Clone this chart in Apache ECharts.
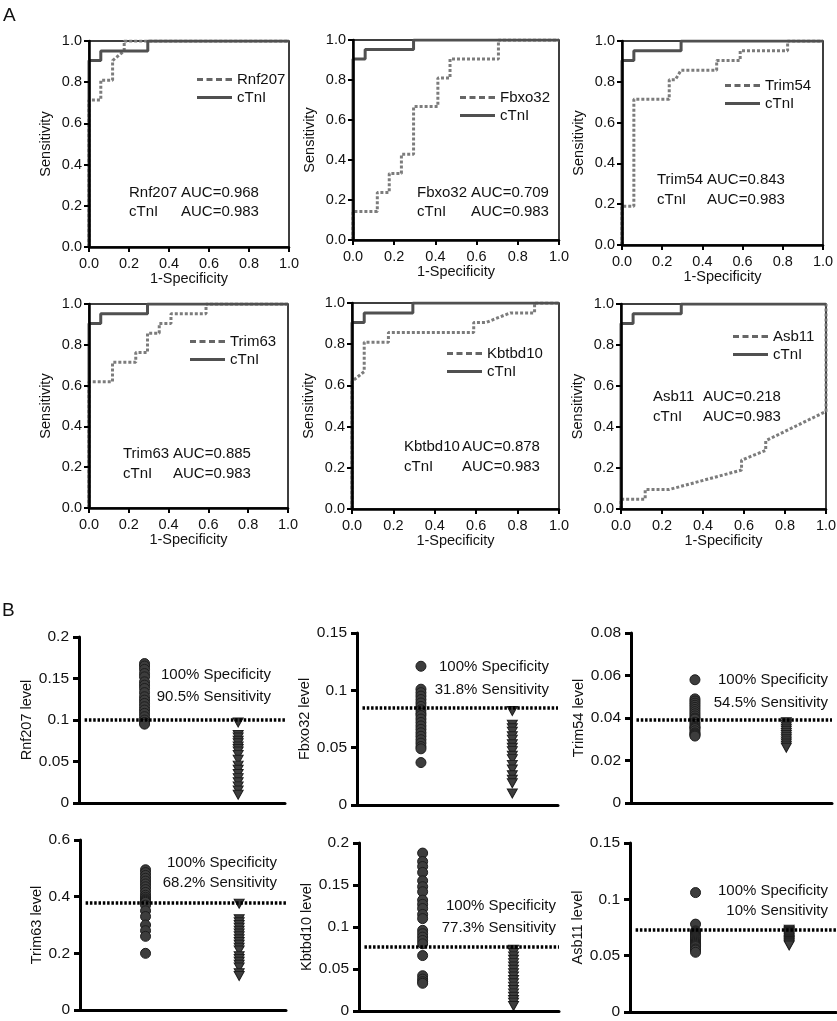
<!DOCTYPE html>
<html><head><meta charset="utf-8">
<script src="https://cdn.jsdelivr.net/npm/echarts@6/dist/echarts.min.js"></script>
<style>html,body{margin:0;padding:0;background:#fff}#c{width:837px;height:1021px}</style>
</head><body><div id="c"></div>
<script>
const FONT = '"Liberation Sans", Arial, sans-serif';

// ---------- DATA ----------
const genes = ['Rnf207', 'Fbxo32', 'Trim54', 'Trim63', 'Kbtbd10', 'Asb11'];
const aucGene = ['AUC=0.968', 'AUC=0.709', 'AUC=0.843', 'AUC=0.885', 'AUC=0.878', 'AUC=0.218'];
const aucCtni = 'AUC=0.983';
const refName = 'cTnI';
const rocTicks = [0, 0.2, 0.4, 0.6, 0.8, 1.0];

// ROC curves: [1-specificity, sensitivity]
const ctniRoc = [[0,0],[0,0.905],[0.059,0.905],[0.059,0.952],[0.294,0.952],[0.294,1],[1,1]];
const rnf207Roc = [[0,0],[0,0.714],[0.059,0.714],[0.059,0.81],[0.118,0.81],[0.118,0.905],[0.176,0.952],[0.176,1],[1,1]];
const fbxo32Roc = [[0,0],[0,0.143],[0.118,0.143],[0.118,0.238],[0.176,0.238],[0.176,0.333],[0.235,0.333],[0.235,0.429],[0.294,0.429],[0.294,0.667],[0.412,0.667],[0.412,0.81],[0.471,0.81],[0.471,0.905],[0.706,0.905],[0.706,1],[1,1]];
const trim54Roc = [[0,0],[0,0.19],[0.059,0.19],[0.059,0.714],[0.235,0.714],[0.235,0.81],[0.265,0.81],[0.294,0.857],[0.471,0.857],[0.471,0.905],[0.588,0.905],[0.588,0.952],[0.824,0.952],[0.824,1],[1,1]];
const trim63Roc = [[0,0],[0,0.619],[0.118,0.619],[0.118,0.714],[0.235,0.714],[0.235,0.762],[0.294,0.762],[0.294,0.857],[0.353,0.857],[0.353,0.905],[0.412,0.905],[0.412,0.952],[0.588,0.952],[0.588,1],[1,1]];
const kbtbd10Roc = [[0,0],[0,0.619],[0.059,0.667],[0.059,0.81],[0.176,0.81],[0.176,0.857],[0.588,0.857],[0.588,0.905],[0.647,0.905],[0.706,0.929],[0.765,0.952],[0.882,0.952],[0.882,1],[1,1]];
const asb11Roc = [[0,0],[0,0.048],[0.118,0.048],[0.118,0.095],[0.235,0.095],[0.588,0.19],[0.588,0.238],[0.706,0.286],[0.706,0.333],[1,0.476],[1,1]];

// Scatter (level) data: circles (group 1) and down-triangles (group 2)
const rnf207High = [0.168,0.165,0.161,0.156,0.152,0.146,0.142,0.138,0.133,0.128,0.124,0.12,0.116,0.112,0.108,0.104,0.1,0.097,0.095];
const rnf207Low  = [0.097,0.082,0.079,0.075,0.072,0.068,0.065,0.062,0.058,0.052,0.045,0.04,0.035,0.03,0.025,0.02,0.015,0.01];
const fbxo32High = [0.121,0.101,0.098,0.095,0.092,0.089,0.086,0.083,0.08,0.078,0.075,0.072,0.069,0.066,0.063,0.06,0.057,0.054,0.051,0.049,0.037];
const fbxo32Low  = [0.082,0.07,0.067,0.064,0.06,0.057,0.053,0.05,0.047,0.043,0.04,0.035,0.031,0.026,0.022,0.019,0.01];
const trim54High = [0.058,0.049,0.048,0.047,0.046,0.045,0.044,0.043,0.042,0.041,0.040,0.0395,0.038,0.037,0.036,0.0355,0.035,0.034,0.033,0.0325,0.032,0.0315];
const trim54Low  = [0.038,0.037,0.036,0.035,0.034,0.033,0.032,0.031,0.030,0.029,0.028,0.027,0.026];
const trim63High = [0.495,0.485,0.475,0.465,0.455,0.445,0.435,0.425,0.415,0.405,0.398,0.392,0.388,0.384,0.38,0.37,0.35,0.33,0.3,0.28,0.26,0.2];
const trim63Low  = [0.375,0.32,0.31,0.3,0.29,0.28,0.27,0.26,0.25,0.24,0.23,0.22,0.21,0.19,0.18,0.17,0.16,0.15,0.13,0.12];
const kbtbd10High = [0.188,0.178,0.172,0.165,0.155,0.148,0.142,0.132,0.127,0.122,0.115,0.11,0.096,0.092,0.088,0.084,0.08,0.066,0.042,0.038,0.035,0.033];
const kbtbd10Low  = [0.073,0.069,0.065,0.061,0.057,0.053,0.049,0.045,0.041,0.037,0.033,0.029,0.025,0.021,0.017,0.013,0.01,0.006];
const asb11High = [0.106,0.078,0.072,0.071,0.07,0.069,0.068,0.067,0.066,0.065,0.064,0.063,0.062,0.061,0.06,0.059,0.058,0.056,0.055,0.053];
const asb11Low  = [0.073,0.072,0.071,0.07,0.069,0.068,0.067,0.066,0.065,0.064,0.063,0.062,0.061,0.06,0.059];

const levelMax  = [0.2, 0.15, 0.08, 0.6, 0.2, 0.15];
const levelStep = [0.05, 0.05, 0.02, 0.2, 0.05, 0.05];
const thresholds = [0.1, 0.085, 0.039, 0.378, 0.076, 0.073];
const specLabel = '100% Specificity';
const sensLabels = ['90.5% Sensitivity', '31.8% Sensitivity', '54.5% Sensitivity', '68.2% Sensitivity', '77.3% Sensitivity', '10% Sensitivity'];
const groupPos = [1, 2];
const levXRange = [0.3, 2.5];
const cutoffXStart = 0.36;

// ---------- LAYOUT ----------
const rocGrid = [
  {left: 89, top: 41, width: 200, height: 206},
  {left: 353, top: 40, width: 206, height: 200},
  {left: 622, top: 41, width: 201, height: 204},
  {left: 89, top: 304, width: 199, height: 204},
  {left: 352, top: 303, width: 207, height: 206},
  {left: 621, top: 304, width: 205, height: 205}
];
const rocLegendPos = [[197, 72], [460, 90], [725, 78], [190, 334], [447, 346], [733, 329]];
const aucPos = [[129, 181, 193, 212], [417, 471, 193, 212], [657, 707, 180, 200], [123, 173, 454, 474], [404, 462, 447, 467], [653, 703, 397, 417]];
const levGrid = [
  {left: 79, top: 637, width: 206, height: 166},
  {left: 357, top: 633, width: 201, height: 172},
  {left: 631, top: 633, width: 201, height: 170},
  {left: 80, top: 840, width: 206, height: 170},
  {left: 359, top: 843, width: 200, height: 168},
  {left: 630, top: 843, width: 206, height: 169}
];
const levNameGap = [38, 36, 42, 30, 40, 34];
const specPos = [[271, 675, 697], [549, 667, 690], [828, 680, 703], [277, 863, 883], [556, 906, 928], [828, 891, 911]];
const dashIcon = 'path://M0,0h6v3h-6zM9.5,0h6v3h-6zM19,0h6v3h-6zM28.5,0h6.5v3h-6.5z';
const solidIcon = 'path://M0,0h35v3h-35z';

// ---------- BUILD ----------
const rocData = [rnf207Roc, fbxo32Roc, trim54Roc, trim63Roc, kbtbd10Roc, asb11Roc];
const highData = [rnf207High, fbxo32High, trim54High, trim63High, kbtbd10High, asb11High];
const lowData = [rnf207Low, fbxo32Low, trim54Low, trim63Low, kbtbd10Low, asb11Low];

const grids = [], xAxes = [], yAxes = [], series = [], legends = [], graphics = [];
const txt = (x, y, t, size, align) => ({
  type: 'text', x: x, y: y, silent: true, z: 100,
  style: {text: t, fontSize: size, fontFamily: FONT, fill: '#111', align: align || 'left', verticalAlign: 'middle'}
});

rocGrid.forEach((g, i) => {
  grids.push(Object.assign({show: true, borderColor: '#000', borderWidth: 1.5, backgroundColor: 'transparent', outerBoundsMode: 'none', containLabel: false}, g));
  const axisCommon = {
    type: 'value', gridIndex: i, min: rocTicks[0], max: rocTicks[rocTicks.length - 1], interval: rocTicks[1] - rocTicks[0],
    z: 5,
    axisLine: {show: true, onZero: false, lineStyle: {color: '#000', width: 2.5}},
    axisTick: {show: true, inside: false, length: 5, lineStyle: {color: '#000', width: 2}},
    axisLabel: {show: true, fontSize: 14.5, fontFamily: FONT, color: '#111', formatter: v => v.toFixed(1), showMinLabel: true, showMaxLabel: true, hideOverlap: false},
    splitLine: {show: false},
    nameLocation: 'middle',
    nameTextStyle: {fontSize: 14.5, fontFamily: FONT, color: '#111'}
  };
  xAxes.push(Object.assign({}, axisCommon, {name: '1-Specificity', nameGap: 24, axisLabel: Object.assign({}, axisCommon.axisLabel, {margin: 9})}));
  yAxes.push(Object.assign({}, axisCommon, {name: 'Sensitivity', nameGap: 36, axisLabel: Object.assign({}, axisCommon.axisLabel, {margin: 7})}));
  series.push({
    type: 'line', name: genes[i], xAxisIndex: i, yAxisIndex: i, data: rocData[i], symbol: 'none', showSymbol: false,
    lineStyle: {color: '#7c7c7c', width: 3, type: [3, 2]}, itemStyle: {color: '#7c7c7c'}, z: 2, silent: true, animation: false
  });
  series.push({
    type: 'line', name: refName, xAxisIndex: i, yAxisIndex: i, data: ctniRoc, symbol: 'none', showSymbol: false,
    lineStyle: {color: '#505050', width: 3}, itemStyle: {color: '#505050'}, z: 3, silent: true, animation: false
  });
  legends.push({
    left: rocLegendPos[i][0], top: rocLegendPos[i][1], orient: 'vertical', padding: 0,
    itemWidth: 35, itemHeight: 3, itemGap: 3, selectedMode: false,
    textStyle: {fontSize: 15, fontFamily: FONT, color: '#111', padding: [0, 0, 0, 0]},
    data: [
      {name: genes[i], icon: dashIcon, itemStyle: {color: '#666'}},
      {name: refName, icon: solidIcon, itemStyle: {color: '#505050'}}
    ]
  });
  const p = aucPos[i];
  graphics.push(txt(p[0], p[2], genes[i], 15));
  graphics.push(txt(p[1], p[2], aucGene[i], 15));
  graphics.push(txt(p[0], p[3], refName, 15));
  graphics.push(txt(p[1], p[3], aucCtni, 15));
});

levGrid.forEach((g, k) => {
  const i = k + 6;
  grids.push(Object.assign({show: false, outerBoundsMode: 'none', containLabel: false}, g));
  xAxes.push({
    type: 'value', gridIndex: i, min: levXRange[0], max: levXRange[1], z: 5,
    axisLine: {show: true, onZero: false, lineStyle: {color: '#000', width: 3}},
    axisTick: {show: false}, axisLabel: {show: false}, splitLine: {show: false}
  });
  yAxes.push({
    type: 'value', gridIndex: i, min: 0, max: levelMax[k], interval: levelStep[k], z: 5,
    name: genes[k] + ' level', nameLocation: 'middle', nameGap: levNameGap[k],
    nameTextStyle: {fontSize: 14.5, fontFamily: FONT, color: '#111'},
    axisLine: {show: true, onZero: false, lineStyle: {color: '#000', width: 3}},
    axisTick: {show: true, inside: false, length: 6, lineStyle: {color: '#000', width: 3}},
    axisLabel: {show: true, margin: 10, fontSize: 15.5, fontFamily: FONT, color: '#111', showMinLabel: true, showMaxLabel: true, hideOverlap: false,
      formatter: v => String(parseFloat(v.toFixed(4)))},
    splitLine: {show: false}
  });
  series.push({
    type: 'scatter', name: genes[k] + ' high', xAxisIndex: i, yAxisIndex: i,
    data: highData[k].map(v => [groupPos[0], v]), symbol: 'circle', symbolSize: 10,
    itemStyle: {color: '#3d3d3d', borderColor: '#1e1e1e', borderWidth: 1, opacity: 1}, silent: true, animation: false, z: 3,
    markLine: {
      silent: true, symbol: ['none', 'none'], label: {show: false}, animation: false, precision: 5,
      lineStyle: {color: '#000', width: 3.5, type: [2.5, 1.8], opacity: 1},
      data: [[{coord: [cutoffXStart, thresholds[k]]}, {coord: [levXRange[1], thresholds[k]]}]]
    }
  });
  series.push({
    type: 'scatter', name: genes[k] + ' low', xAxisIndex: i, yAxisIndex: i,
    data: lowData[k].map(v => [groupPos[1], v]), symbol: 'triangle', symbolRotate: 180, symbolSize: [10, 9],
    itemStyle: {color: '#3d3d3d', borderColor: '#1e1e1e', borderWidth: 1, opacity: 1}, silent: true, animation: false, z: 3
  });
  const s = specPos[k];
  graphics.push(txt(s[0], s[1], specLabel, 15, 'right'));
  graphics.push(txt(s[0], s[2], sensLabels[k], 15, 'right'));
});

graphics.push({type: 'text', x: 3, y: 16, silent: true, style: {text: 'A', fontSize: 19, fontFamily: FONT, fill: '#111', align: 'left', verticalAlign: 'middle'}});
graphics.push({type: 'text', x: 2, y: 611, silent: true, style: {text: 'B', fontSize: 19, fontFamily: FONT, fill: '#111', align: 'left', verticalAlign: 'middle'}});

const chart = echarts.init(document.getElementById('c'), null, {renderer: 'canvas'});
chart.setOption({
  backgroundColor: '#fff',
  animation: false,
  textStyle: {fontFamily: FONT},
  grid: grids, xAxis: xAxes, yAxis: yAxes, series: series, legend: legends, graphic: graphics
});
</script></body></html>
